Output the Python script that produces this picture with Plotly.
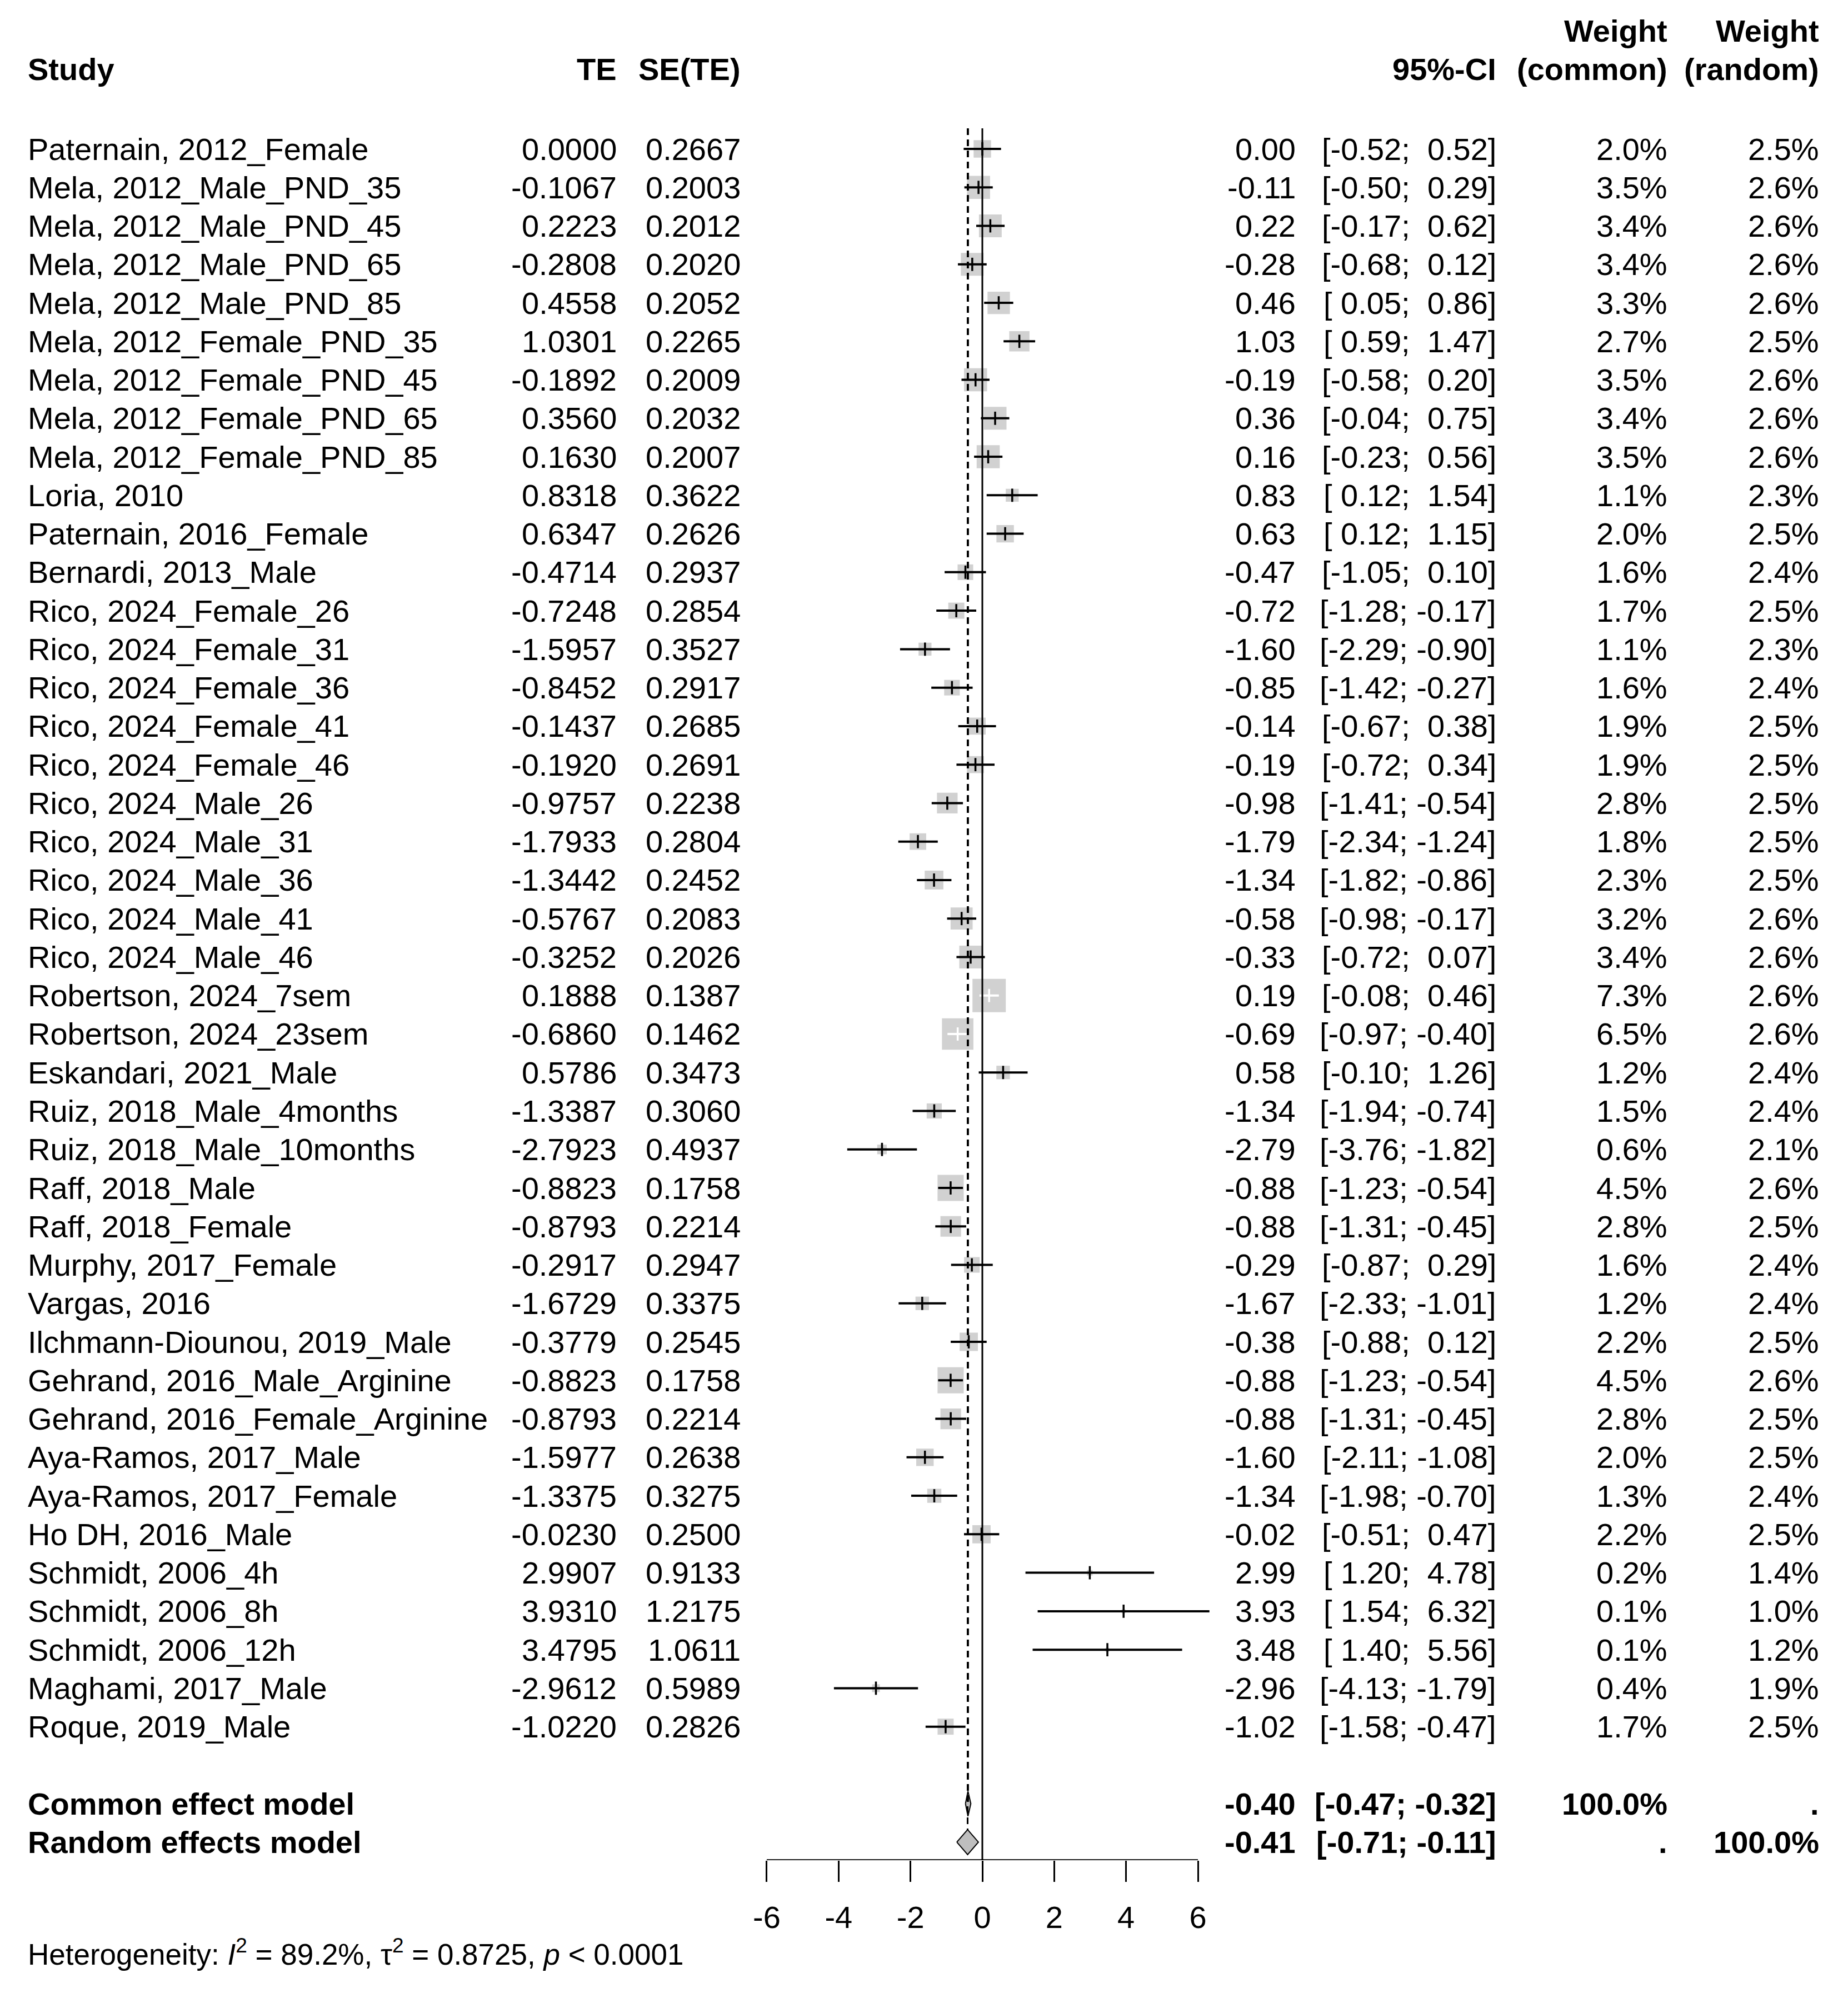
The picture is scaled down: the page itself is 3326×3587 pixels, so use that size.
import math
import plotly.graph_objects as go

# ---------------- data ----------------
studies = [
    "Paternain, 2012_Female", "Mela, 2012_Male_PND_35", "Mela, 2012_Male_PND_45",
    "Mela, 2012_Male_PND_65", "Mela, 2012_Male_PND_85", "Mela, 2012_Female_PND_35",
    "Mela, 2012_Female_PND_45", "Mela, 2012_Female_PND_65", "Mela, 2012_Female_PND_85",
    "Loria, 2010", "Paternain, 2016_Female", "Bernardi, 2013_Male",
    "Rico, 2024_Female_26", "Rico, 2024_Female_31", "Rico, 2024_Female_36",
    "Rico, 2024_Female_41", "Rico, 2024_Female_46", "Rico, 2024_Male_26",
    "Rico, 2024_Male_31", "Rico, 2024_Male_36", "Rico, 2024_Male_41",
    "Rico, 2024_Male_46", "Robertson, 2024_7sem", "Robertson, 2024_23sem",
    "Eskandari, 2021_Male", "Ruiz, 2018_Male_4months", "Ruiz, 2018_Male_10months",
    "Raff, 2018_Male", "Raff, 2018_Female", "Murphy, 2017_Female", "Vargas, 2016",
    "Ilchmann-Diounou, 2019_Male", "Gehrand, 2016_Male_Arginine",
    "Gehrand, 2016_Female_Arginine", "Aya-Ramos, 2017_Male", "Aya-Ramos, 2017_Female",
    "Ho DH, 2016_Male", "Schmidt, 2006_4h", "Schmidt, 2006_8h", "Schmidt, 2006_12h",
    "Maghami, 2017_Male", "Roque, 2019_Male",
]
te = [0.0000, -0.1067, 0.2223, -0.2808, 0.4558, 1.0301, -0.1892, 0.3560, 0.1630,
      0.8318, 0.6347, -0.4714, -0.7248, -1.5957, -0.8452, -0.1437, -0.1920, -0.9757,
      -1.7933, -1.3442, -0.5767, -0.3252, 0.1888, -0.6860, 0.5786, -1.3387, -2.7923,
      -0.8823, -0.8793, -0.2917, -1.6729, -0.3779, -0.8823, -0.8793, -1.5977, -1.3375,
      -0.0230, 2.9907, 3.9310, 3.4795, -2.9612, -1.0220]
se = [0.2667, 0.2003, 0.2012, 0.2020, 0.2052, 0.2265, 0.2009, 0.2032, 0.2007,
      0.3622, 0.2626, 0.2937, 0.2854, 0.3527, 0.2917, 0.2685, 0.2691, 0.2238,
      0.2804, 0.2452, 0.2083, 0.2026, 0.1387, 0.1462, 0.3473, 0.3060, 0.4937,
      0.1758, 0.2214, 0.2947, 0.3375, 0.2545, 0.1758, 0.2214, 0.2638, 0.3275,
      0.2500, 0.9133, 1.2175, 1.0611, 0.5989, 0.2826]
ci_lo = [-0.52, -0.50, -0.17, -0.68, 0.05, 0.59, -0.58, -0.04, -0.23,
         0.12, 0.12, -1.05, -1.28, -2.29, -1.42, -0.67, -0.72, -1.41,
         -2.34, -1.82, -0.98, -0.72, -0.08, -0.97, -0.10, -1.94, -3.76,
         -1.23, -1.31, -0.87, -2.33, -0.88, -1.23, -1.31, -2.11, -1.98,
         -0.51, 1.20, 1.54, 1.40, -4.13, -1.58]
ci_hi = [0.52, 0.29, 0.62, 0.12, 0.86, 1.47, 0.20, 0.75, 0.56,
         1.54, 1.15, 0.10, -0.17, -0.90, -0.27, 0.38, 0.34, -0.54,
         -1.24, -0.86, -0.17, 0.07, 0.46, -0.40, 1.26, -0.74, -1.82,
         -0.54, -0.45, 0.29, -1.01, 0.12, -0.54, -0.45, -1.08, -0.70,
         0.47, 4.78, 6.32, 5.56, -1.79, -0.47]
w_common = [2.0, 3.5, 3.4, 3.4, 3.3, 2.7, 3.5, 3.4, 3.5,
            1.1, 2.0, 1.6, 1.7, 1.1, 1.6, 1.9, 1.9, 2.8,
            1.8, 2.3, 3.2, 3.4, 7.3, 6.5, 1.2, 1.5, 0.6,
            4.5, 2.8, 1.6, 1.2, 2.2, 4.5, 2.8, 2.0, 1.3,
            2.2, 0.2, 0.1, 0.1, 0.4, 1.7]
w_random = [2.5, 2.6, 2.6, 2.6, 2.6, 2.5, 2.6, 2.6, 2.6,
            2.3, 2.5, 2.4, 2.5, 2.3, 2.4, 2.5, 2.5, 2.5,
            2.5, 2.5, 2.6, 2.6, 2.6, 2.6, 2.4, 2.4, 2.1,
            2.6, 2.5, 2.4, 2.4, 2.5, 2.6, 2.5, 2.5, 2.4,
            2.5, 1.4, 1.0, 1.2, 1.9, 2.5]

summary_labels = ["Common effect model", "Random effects model"]
summary_est = [-0.40, -0.41]
summary_lo = [-0.47, -0.71]
summary_hi = [-0.32, -0.11]
summary_w_common = ["100.0%", "."]
summary_w_random = [".", "100.0%"]

x_ticks = [-6, -4, -2, 0, 2, 4, 6]
het_I2 = "89.2%"
het_tau2 = "0.8725"
het_p = "&lt; 0.0001"

# ---------------- layout constants (pixels of the 3326x3587 canvas) ----------------
W, H = 3326, 3587
X0_PX = 1760.0          # pixel of x = 0
PX_PER_UNIT = 64.67
ROW0_PX = 260.0         # pixel of first study row
ROW_PX = 69.26          # row spacing
AXIS_PX = 3340.0        # pixel of the x-axis line
LINE_TOP_PX = 223.0
FONT = "Liberation Sans, Arial, sans-serif"
FS = 56
GREY = "#BEBEBE"
BOX_K = 22.2            # square side = BOX_K*sqrt(weight)

x_range = [-X0_PX / PX_PER_UNIT, (W - X0_PX) / PX_PER_UNIT]
y_range = [(AXIS_PX - ROW0_PX) / ROW_PX, -ROW0_PX / ROW_PX]


def prow(py):
    return (py - ROW0_PX) / ROW_PX


def pxx(px):
    return px / W


def pxy(py):
    return 1 - py / H


n = len(studies)
rows = list(range(n))
row_common = n + 1
row_random = n + 2

fig = go.Figure()

# squares
sizes = [BOX_K * math.sqrt(w) for w in w_common]
fig.add_trace(go.Scatter(x=te, y=rows, mode="markers",
                         marker=dict(symbol="square", size=sizes, color=GREY,
                                     line=dict(width=0)),
                         hoverinfo="skip", showlegend=False))

# CI lines (white when the CI lies inside the square)
inside = [sizes[i] > (ci_hi[i] - ci_lo[i]) * PX_PER_UNIT + 5 for i in rows]
for flag, col in [(False, "black"), (True, "white")]:
    xs, ys = [], []
    for i in rows:
        if inside[i] == flag:
            xs += [ci_lo[i], ci_hi[i], None]
            ys += [i, i, None]
    fig.add_trace(go.Scatter(x=xs, y=ys, mode="lines",
                             line=dict(color=col, width=4),
                             hoverinfo="skip", showlegend=False))

# estimate ticks
tick_cols = ["white" if inside[i] else "black" for i in rows]
fig.add_trace(go.Scatter(x=te, y=rows, mode="markers",
                         marker=dict(symbol="line-ns", size=17, color=tick_cols,
                                     line=dict(width=3.5, color=tick_cols)),
                         hoverinfo="skip", showlegend=False))

# diamonds
h = 22.5 / ROW_PX
for r, est, lo, hi in [(row_common, summary_est[0], summary_lo[0], summary_hi[0]),
                       (row_random, summary_est[1], summary_lo[1], summary_hi[1])]:
    fig.add_trace(go.Scatter(x=[lo, est, hi, est, lo], y=[r, r - h, r, r + h, r],
                             mode="lines", fill="toself", fillcolor=GREY,
                             line=dict(color="black", width=2),
                             hoverinfo="skip", showlegend=False))

shapes = []
# line of no effect
shapes.append(dict(type="line", xref="x", yref="y", x0=0, x1=0,
                   y0=prow(LINE_TOP_PX), y1=y_range[0],
                   line=dict(color="black", width=3)))
# common / random effect dashed lines
shapes.append(dict(type="line", xref="x", yref="y", x0=summary_est[0], x1=summary_est[0],
                   y0=prow(LINE_TOP_PX), y1=row_common,
                   line=dict(color="black", width=3.5, dash="12px,8px")))
shapes.append(dict(type="line", xref="x", yref="y", x0=summary_est[1], x1=summary_est[1],
                   y0=prow(LINE_TOP_PX), y1=row_random - h,
                   line=dict(color="black", width=3, dash="12px,8px")))
# axis line
shapes.append(dict(type="line", xref="x", yref="y", x0=min(x_ticks), x1=max(x_ticks),
                   y0=y_range[0], y1=y_range[0], line=dict(color="black", width=3.5)))

ann = []


def txt(x_px, y, text, anchor, yref="y", bold=False, size=FS):
    if bold:
        text = "<b>" + text + "</b>"
    ann.append(dict(x=pxx(x_px), xref="paper", y=y, yref=yref, text=text,
                    xanchor=anchor, yanchor="middle", showarrow=False,
                    font=dict(family=FONT, size=size, color="black")))


COL_STUDY = 40
COL_TE = 1104
COL_SE = 1327
COL_EST = 2326
COL_CI = 2687
COL_WC = 2995
COL_WR = 3268

# headers
HDR2 = 117
HDR1 = 48
txt(COL_STUDY, pxy(HDR2), "Study", "left", "paper", True)
txt(COL_TE, pxy(HDR2), "TE", "right", "paper", True)
txt(COL_SE, pxy(HDR2), "SE(TE)", "right", "paper", True)
txt(COL_CI, pxy(HDR2), "95%-CI", "right", "paper", True)
txt(COL_WC, pxy(HDR2), "(common)", "right", "paper", True)
txt(COL_WR, pxy(HDR2), "(random)", "right", "paper", True)
txt(COL_WC, pxy(HDR1), "Weight", "right", "paper", True)
txt(COL_WR, pxy(HDR1), "Weight", "right", "paper", True)

for i in rows:
    txt(COL_STUDY, i, studies[i], "left")
    txt(COL_TE, i, "%.4f" % te[i], "right")
    txt(COL_SE, i, "%.4f" % se[i], "right")
    txt(COL_EST, i, "%.2f" % te[i], "right")
    txt(COL_CI, i, "[%5.2f; %5.2f]" % (ci_lo[i], ci_hi[i]), "right")
    txt(COL_WC, i, "%.1f%%" % w_common[i], "right")
    txt(COL_WR, i, "%.1f%%" % w_random[i], "right")

for k, r in enumerate([row_common, row_random]):
    txt(COL_STUDY, r, summary_labels[k], "left", bold=True)
    txt(COL_EST, r, "%.2f" % summary_est[k], "right", bold=True)
    txt(COL_CI, r, "[%5.2f; %5.2f]" % (summary_lo[k], summary_hi[k]), "right", bold=True)
    txt(COL_WC, r, summary_w_common[k], "right", bold=True)
    txt(COL_WR, r, summary_w_random[k], "right", bold=True)

txt(COL_STUDY, pxy(3505),
    "Heterogeneity: <i>I</i><sup>2</sup> = %s, \u03c4<sup>2</sup> = %s, <i>p</i> %s"
    % (het_I2, het_tau2, het_p), "left", "paper", size=53)

fig.update_layout(
    width=W, height=H, autosize=False,
    margin=dict(l=0, r=0, t=0, b=0, pad=0),
    paper_bgcolor="white", plot_bgcolor="white",
    shapes=shapes, annotations=ann, showlegend=False,
    xaxis=dict(range=x_range, domain=[0, 1], showgrid=False, zeroline=False,
               showline=False, ticks="outside", ticklen=38, tickwidth=3,
               tickcolor="black", tickvals=x_ticks,
               ticktext=[str(t) for t in x_ticks],
               tickfont=dict(family=FONT, size=FS, color="black"),
               ticklabelstandoff=16, automargin=False, fixedrange=True),
    yaxis=dict(range=y_range, domain=[1 - AXIS_PX / H, 1], visible=False,
               fixedrange=True),
)

fig.write_html("out.html")
